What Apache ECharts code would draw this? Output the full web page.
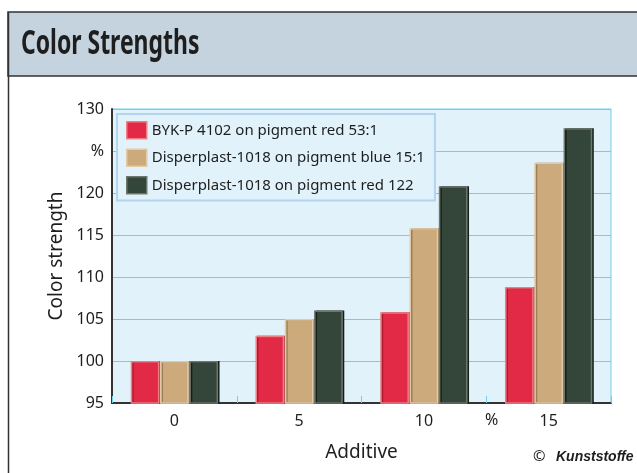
<!DOCTYPE html>
<html><head><meta charset="utf-8">
<script src="https://cdn.jsdelivr.net/npm/echarts@6/dist/echarts.min.js"></script>
<style>html,body{margin:0;padding:0;background:#fff}#c{width:637px;height:473px}</style>
</head><body><div id="c"></div>
<script>
const categories = ['0', '5', '10', '15'];
const seriesNames = ['BYK-P 4102 on pigment red 53:1', 'Disperplast-1018 on pigment blue 15:1', 'Disperplast-1018 on pigment red 122'];
const redValues = [100, 103, 105.8, 108.8];
const tanValues = [100, 105, 115.8, 123.6];
const darkValues = [100, 106, 120.8, 127.7];
const yTicks = [95, 100, 105, 110, 115, 120, 125, 130];

const colors = ['#e22a47', '#ccaa7b', '#34453a'];
const borders = ['#ef7f86', '#e2caa6', '#6e776f'];
const shadows = ['#a81c30', '#9c7f55', '#142018'];
const F = '"Noto Sans", sans-serif';
const GRIDC = '#72cdef';

const chart = echarts.init(document.getElementById('c'), null, {renderer: 'canvas'});
const data = [redValues, tanValues, darkValues];
const series = data.map((vals, i) => ({
  name: seriesNames[i],
  type: 'bar',
  data: vals,
  barGap: '2%',
  barCategoryGap: '30%',
  itemStyle: {color: colors[i], borderColor: borders[i], borderWidth: 1.5,
    shadowColor: shadows[i], shadowOffsetX: 1.5, shadowOffsetY: 0, shadowBlur: 0}
}));

chart.setOption({
  backgroundColor: '#ffffff',
  animation: false,
  grid: {left: 112, right: 26, top: 109, bottom: 70, show: true,
    backgroundColor: '#e1f2fa', borderColor: GRIDC, borderWidth: 1},
  legend: {
    orient: 'vertical', left: 117, top: 114,
    data: seriesNames,
    itemWidth: 20, itemHeight: 17, itemGap: 9,
    icon: 'rect',
    backgroundColor: '#e1f2fa', borderColor: '#b2d4ee', borderWidth: 2,
    padding: [7, 10, 6, 9],
    textStyle: {fontFamily: F, fontSize: 15, lineHeight: 17, color: '#1e1e1e'},
    itemStyle: {borderWidth: 1.5}
  },
  xAxis: {
    type: 'category', data: categories,
    name: 'Additive', nameLocation: 'middle', nameGap: 40,
    nameTextStyle: {fontFamily: F, fontSize: 19, color: '#1e1e1e'},
    axisLine: {lineStyle: {color: '#333', width: 2}},
    axisTick: {show: true, inside: true, length: 7, lineStyle: {color: GRIDC, width: 1}},
    axisLabel: {fontFamily: F, fontSize: 16, color: '#1e1e1e', margin: 10}
  },
  yAxis: {
    type: 'value', min: 95, max: 130, interval: 5,
    name: 'Color strength', nameLocation: 'middle', nameGap: 41,
    nameTextStyle: {fontFamily: F, fontSize: 19, color: '#1e1e1e'},
    axisLine: {show: true, lineStyle: {color: '#333', width: 2}},
    axisTick: {show: false},
    axisLabel: {fontFamily: F, fontSize: 16, color: '#1e1e1e', margin: 8,
      formatter: v => (v === 125 ? '%' : (yTicks.indexOf(v) >= 0 ? String(v) : ''))},
    splitLine: {show: true, lineStyle: {color: GRIDC, width: 1}}
  },
  series: series,
  graphic: [
    {type: 'rect', shape: {x: 8, y: 12, width: 640, height: 64}, style: {fill: '#c5d3de', stroke: '#333', lineWidth: 1.5}, z: 0},
    {type: 'line', shape: {x1: 8.5, y1: 12, x2: 8.5, y2: 480}, style: {stroke: '#333', lineWidth: 1.5}, z: 1},
    {type: 'text', x: 21, y: 27, scaleX: 0.675, style: {text: 'Color Strengths', font: 'bold 34px "Noto Sans", sans-serif', fill: '#1e1e1e'}, z: 2},
    {type: 'text', left: 485, top: 412, style: {text: '%', font: '16px "Noto Sans", sans-serif', fill: '#1e1e1e'}, z: 2},
    {type: 'text', x: 533, y: 449, style: {text: '©', font: '15px "Noto Sans", sans-serif', fill: '#1e1e1e'}, z: 2},
    {type: 'text', x: 556, y: 450, style: {text: 'Kunststoffe', font: 'italic bold 14px "Liberation Sans", sans-serif', fill: '#1e1e1e'}, z: 2}
  ]
});
</script></body></html>
